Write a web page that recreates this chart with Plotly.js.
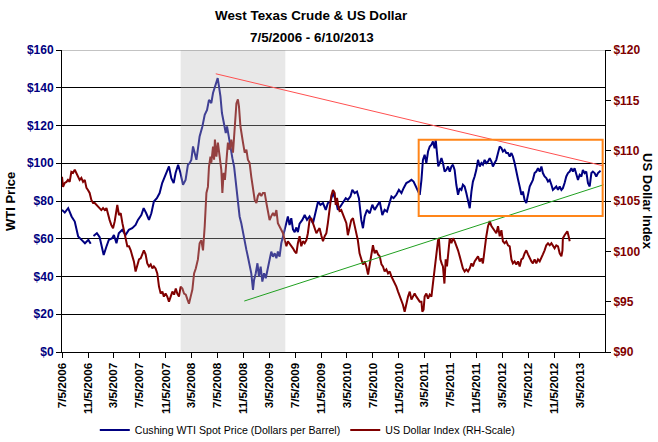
<!DOCTYPE html>
<html>
<head>
<meta charset="utf-8">
<script src="https://cdn.plot.ly/plotly-3.0.1.min.js"></script>
<style>html,body{margin:0;padding:0;background:#fff;}#chart{width:658px;height:442px;}</style>
</head>
<body>
<div id="chart"></div>
<script>
// ---- data ----
var wtiDates = ["2006-07-05","2006-07-18","2006-08-03","2006-08-19","2006-09-03","2006-09-11","2006-09-19","2006-10-05","2006-10-21","2006-11-06","2006-11-17","2006-11-22","2006-11-30","2006-12-16","2006-12-29",
"2007-01-09","2007-01-17","2007-01-30","2007-02-10","2007-02-26","2007-03-06","2007-03-18","2007-03-29","2007-04-14","2007-04-30","2007-05-15","2007-05-31","2007-06-16","2007-06-27","2007-07-13","2007-07-24","2007-08-05","2007-08-18","2007-08-29","2007-09-10","2007-09-24","2007-10-07","2007-10-19","2007-10-31","2007-11-11","2007-11-20","2007-12-01","2007-12-12","2007-12-21",
"2008-01-02","2008-01-13","2008-01-25","2008-02-06","2008-02-17","2008-02-25","2008-03-04","2008-03-12","2008-03-20","2008-03-28","2008-04-12","2008-04-25","2008-05-06","2008-05-17","2008-05-26","2008-06-06","2008-06-14","2008-06-27","2008-07-06","2008-07-12","2008-07-19","2008-07-26","2008-08-05","2008-08-13","2008-08-19","2008-08-28","2008-09-04","2008-09-13","2008-09-21","2008-10-02","2008-10-09","2008-10-17","2008-10-25","2008-11-02","2008-11-10","2008-11-18","2008-11-25","2008-12-03","2008-12-11","2008-12-19","2008-12-24",
"2009-01-01","2009-01-09","2009-01-16","2009-01-24","2009-02-01","2009-02-09","2009-02-17","2009-02-25","2009-03-07","2009-03-15","2009-03-23","2009-03-31","2009-04-08","2009-04-15","2009-04-23","2009-05-01","2009-05-09","2009-05-17","2009-05-25","2009-06-01","2009-06-09","2009-06-17","2009-06-25","2009-07-03","2009-07-11","2009-07-18","2009-07-26","2009-08-08","2009-08-19","2009-08-30","2009-09-11","2009-09-27","2009-10-10","2009-10-21","2009-11-01","2009-11-13","2009-11-26","2009-12-06","2009-12-18","2009-12-30",
"2010-01-12","2010-01-22","2010-02-03","2010-02-15","2010-02-28","2010-03-10","2010-03-22","2010-03-31","2010-04-11","2010-04-22","2010-05-01","2010-05-12","2010-05-20","2010-05-28","2010-06-08","2010-06-21","2010-07-03","2010-07-14","2010-07-25","2010-08-07","2010-08-19","2010-08-30","2010-09-10","2010-09-19","2010-10-01","2010-10-11","2010-10-24","2010-11-05","2010-11-17","2010-11-27","2010-12-10","2010-12-22",
"2011-01-03","2011-01-13","2011-01-26","2011-02-03","2011-02-11","2011-02-19","2011-02-26","2011-03-06","2011-03-14","2011-03-22","2011-03-30","2011-04-07","2011-04-14","2011-04-22","2011-04-27","2011-05-03","2011-05-09","2011-05-16","2011-05-24","2011-05-31","2011-06-08","2011-06-16","2011-06-24","2011-07-02","2011-07-10","2011-07-17","2011-07-25","2011-08-02","2011-08-10","2011-08-18","2011-08-26","2011-09-02","2011-09-10","2011-09-18","2011-09-26","2011-10-04","2011-10-12","2011-10-19","2011-10-27","2011-11-04","2011-11-12","2011-11-20","2011-11-28","2011-12-05","2011-12-13","2011-12-21","2011-12-29",
"2012-01-06","2012-01-14","2012-01-21","2012-01-29","2012-02-06","2012-02-14","2012-02-22","2012-03-01","2012-03-08","2012-03-16","2012-03-24","2012-04-01","2012-04-09","2012-04-17","2012-04-24","2012-05-02","2012-05-10","2012-05-18","2012-05-26","2012-06-03","2012-06-10","2012-06-18","2012-06-26","2012-07-04","2012-07-12","2012-07-20","2012-07-27","2012-08-04","2012-08-12","2012-08-20","2012-08-28","2012-09-05","2012-09-12","2012-09-20","2012-09-28","2012-10-06","2012-10-14","2012-10-22","2012-10-29","2012-11-06","2012-11-14","2012-11-22","2012-11-30","2012-12-08","2012-12-15","2012-12-23","2012-12-31",
"2013-01-08","2013-01-16","2013-01-24","2013-01-31","2013-02-08","2013-02-16","2013-02-24","2013-03-04","2013-03-12","2013-03-19","2013-03-27","2013-04-04","2013-04-12","2013-04-20","2013-04-28","2013-05-05","2013-05-13","2013-05-21","2013-05-29","2013-06-06","2013-06-10"];
var wtiValues = [75.3,73.9,76.2,71.8,69.1,64.7,61.2,59.4,57.6,59.4,57.3,null,61.5,62.9,60.8,
55.9,51.4,55.9,59.4,60.3,62.0,57.6,62.9,64.7,62.0,64.7,65.6,67.3,70.0,72.6,76.2,73.5,70.0,73.5,79.7,81.5,84.2,89.5,93.0,95.6,98.3,92.1,89.5,94.8,
99.2,94.8,88.6,91.2,99.2,100.0,101.8,108.9,105.4,101.8,114.2,119.5,125.7,128.3,133.6,131.9,137.2,141.6,145.1,140.7,135.4,126.6,121.3,116.0,119.5,113.3,107.1,102.7,98.3,85.9,78.9,71.8,68.2,62.9,58.5,54.1,50.5,45.2,41.7,32.9,38.2,
41.7,47.0,39.9,45.2,37.3,41.7,39.1,43.5,48.8,53.2,50.5,52.3,49.7,53.2,50.5,57.6,61.2,64.7,68.2,71.8,67.3,70.9,65.0,63.5,66.0,63.5,68.0,70.0,72.6,70.0,71.8,68.2,74.4,79.7,78.0,78.9,75.3,78.9,79.7,84.2,
80.6,75.3,77.1,78.9,81.5,80.6,82.4,85.9,84.2,85.0,81.5,70.0,65.6,71.8,75.3,73.5,78.0,75.3,77.1,79.7,72.6,75.3,74.4,78.0,82.4,81.5,83.3,85.9,84.2,86.8,89.5,90.3,
91.2,90.3,86.8,85.0,83.3,91.2,101.8,104.5,100.1,106.2,108.9,109.8,111.5,108.0,112.4,105.4,98.3,100.1,102.7,100.1,95.6,96.5,98.3,95.6,98.3,99.2,96.5,88.6,83.3,86.8,85.9,88.6,87.7,84.2,80.6,76.2,85.0,90.3,93.0,96.5,101.8,98.3,100.1,99.2,101.8,100.1,100.9,
102.7,100.9,98.3,100.1,101.8,105.4,108.9,108.0,106.2,107.1,105.4,105.4,103.6,105.4,103.6,100.1,96.5,91.5,87.5,83.3,85.0,80.6,78.9,83.3,87.7,89.5,91.2,94.8,95.6,97.4,95.6,98.3,94.8,93.0,92.1,90.3,91.2,88.6,85.9,86.8,87.7,85.9,87.7,85.9,86.8,89.5,93.0,
94.8,95.6,97.4,95.6,97.4,94.8,91.2,93.9,93.0,96.5,94.8,95.6,89.5,87.7,94.8,95.6,94.8,93.0,94.8,95.6,96.1];

var usdDates = ["2006-07-05","2006-07-10","2006-07-18","2006-07-26","2006-08-02","2006-08-10","2006-08-18","2006-08-26","2006-09-03","2006-09-11","2006-09-18","2006-09-26","2006-10-04","2006-10-12","2006-10-20","2006-10-28","2006-11-04","2006-11-12","2006-11-20","2006-11-28","2006-12-06","2006-12-14","2006-12-21","2006-12-29",
"2007-01-06","2007-01-14","2007-01-22","2007-01-30","2007-02-06","2007-02-14","2007-02-22","2007-03-02","2007-03-10","2007-03-18","2007-03-22","2007-03-30","2007-04-07","2007-04-15","2007-04-22","2007-04-30","2007-05-08","2007-05-16","2007-05-24","2007-06-01","2007-06-08","2007-06-16","2007-06-24","2007-07-02","2007-07-10","2007-07-18","2007-07-25","2007-08-02","2007-08-10","2007-08-18","2007-08-26","2007-09-03","2007-09-10","2007-09-18","2007-09-26","2007-10-04","2007-10-12","2007-10-20","2007-10-27","2007-11-04","2007-11-12","2007-11-20","2007-11-28","2007-12-06","2007-12-14","2007-12-22","2007-12-29",
"2008-01-06","2008-01-14","2008-01-22","2008-01-30","2008-02-07","2008-02-15","2008-02-22","2008-03-01","2008-03-09","2008-03-17","2008-03-25","2008-04-04","2008-04-12","2008-04-20","2008-04-28","2008-05-06","2008-05-14","2008-05-21","2008-05-26","2008-06-02","2008-06-06","2008-06-14","2008-06-19","2008-06-23","2008-06-30","2008-07-07","2008-07-15","2008-07-23","2008-07-28","2008-08-03","2008-08-09","2008-08-16","2008-08-23","2008-08-31","2008-09-08","2008-09-16","2008-09-24","2008-10-02","2008-10-09","2008-10-14","2008-10-21","2008-10-27","2008-11-02","2008-11-10","2008-11-18","2008-11-25","2008-12-03","2008-12-11","2008-12-19","2008-12-27",
"2009-01-04","2009-01-11","2009-01-19","2009-01-27","2009-02-04","2009-02-12","2009-02-20","2009-02-27","2009-03-07","2009-03-15","2009-03-23","2009-03-31","2009-04-08","2009-04-15","2009-04-23","2009-05-01","2009-05-09","2009-05-17","2009-05-25","2009-06-01","2009-06-09","2009-06-17","2009-06-25","2009-07-03","2009-07-11","2009-07-18","2009-07-26","2009-08-03","2009-08-11","2009-08-19","2009-08-27","2009-09-03","2009-09-11","2009-09-19","2009-09-27","2009-10-05","2009-10-13","2009-10-21","2009-10-28","2009-11-05","2009-11-13","2009-11-21","2009-11-29","2009-12-06","2009-12-14","2009-12-22","2009-12-30",
"2010-01-07","2010-01-12","2010-01-18","2010-01-24","2010-01-30","2010-02-07","2010-02-15","2010-02-23","2010-03-03","2010-03-10","2010-03-18","2010-03-26","2010-04-03","2010-04-11","2010-04-19","2010-04-26","2010-05-04","2010-05-12","2010-05-20","2010-05-28","2010-06-05","2010-06-13","2010-06-21","2010-06-29","2010-07-06","2010-07-14","2010-07-22","2010-07-30","2010-08-07","2010-08-15","2010-08-22","2010-08-30","2010-09-07","2010-09-15","2010-09-23","2010-10-01","2010-10-08","2010-10-16","2010-10-24","2010-11-01","2010-11-09","2010-11-17","2010-11-24","2010-12-02","2010-12-10","2010-12-18","2010-12-26",
"2011-01-03","2011-01-10","2011-01-18","2011-01-26","2011-02-03","2011-02-11","2011-02-19","2011-02-23","2011-03-01","2011-03-06","2011-03-14","2011-03-22","2011-03-30","2011-04-07","2011-04-14","2011-04-19","2011-04-25","2011-04-30","2011-05-08","2011-05-12","2011-05-19","2011-05-25","2011-05-31","2011-06-07","2011-06-13","2011-06-19","2011-06-25","2011-07-02","2011-07-10","2011-07-17","2011-07-25","2011-08-02","2011-08-10","2011-08-18","2011-08-26","2011-09-02","2011-09-10","2011-09-18","2011-09-26","2011-10-04","2011-10-12","2011-10-19","2011-10-27","2011-11-04","2011-11-12","2011-11-20","2011-11-28","2011-12-05","2011-12-13","2011-12-21","2011-12-29",
"2012-01-06","2012-01-14","2012-01-21","2012-01-29","2012-02-06","2012-02-14","2012-02-22","2012-03-01","2012-03-08","2012-03-16","2012-03-24","2012-04-01","2012-04-09","2012-04-17","2012-04-24","2012-05-02","2012-05-10","2012-05-18","2012-05-26","2012-06-03","2012-06-10","2012-06-18","2012-06-26","2012-07-04","2012-07-12","2012-07-20","2012-07-27","2012-08-04","2012-08-12","2012-08-20","2012-08-28","2012-09-05","2012-09-12","2012-09-20","2012-09-28","2012-10-06","2012-10-14","2012-10-22","2012-10-29","2012-11-06","2012-11-14","2012-11-22","2012-11-30","2012-12-08","2012-12-13","2012-12-15","2012-12-23","2012-12-31",
"2013-01-05","2013-01-11","2013-01-16"];
var usdValues = [107.4,106.4,106.8,106.9,107.1,106.9,107.9,107.8,108.1,107.8,107.4,107.1,107.3,106.9,107.1,106.3,106.1,105.8,105.1,104.8,104.8,104.6,104.5,104.3,
104.1,104.3,104.1,104.3,103.6,103.1,102.6,102.3,103.0,104.0,104.6,103.6,103.8,102.8,102.0,101.1,100.5,100.5,100.1,99.5,99.0,98.0,98.7,99.2,99.3,99.8,100.1,99.7,98.8,98.5,98.7,98.3,98.5,98.3,97.8,96.5,95.8,96.0,95.5,95.8,95.5,95.0,95.5,96.0,95.7,96.3,95.8,
95.5,96.5,96.3,95.8,95.7,95.2,94.8,95.5,96.2,97.8,98.3,99.2,100.8,101.1,100.1,102.5,105.8,106.4,108.4,109.4,108.8,110.4,109.1,111.1,109.4,110.8,109.1,108.1,105.8,107.8,107.1,108.8,110.8,110.1,111.1,109.8,112.4,114.7,115.1,114.4,112.4,111.4,110.8,109.8,110.1,109.1,108.8,107.4,106.1,105.1,
104.8,105.5,105.8,105.5,105.8,105.8,104.8,103.8,103.1,103.5,103.8,103.5,104.1,102.8,102.5,102.1,101.8,101.1,100.5,101.0,100.8,100.5,100.3,100.0,99.8,100.8,101.5,100.5,101.0,100.8,101.1,101.8,103.1,103.3,102.8,102.3,101.8,102.1,102.3,101.6,101.0,101.5,101.8,102.8,104.1,105.5,106.1,
105.8,104.6,105.3,104.5,104.0,104.1,103.6,103.3,102.8,101.6,102.3,103.1,103.3,102.5,101.8,101.1,99.8,99.2,98.7,99.0,98.5,97.7,98.8,100.1,100.6,99.8,100.1,99.7,99.5,98.7,98.5,98.0,98.2,97.8,98.0,97.5,97.2,97.0,96.5,96.0,95.5,95.2,94.7,94.0,94.8,95.5,96.0,
95.2,95.5,95.8,95.5,95.2,95.0,95.0,94.0,94.2,95.5,95.8,95.3,95.7,95.5,96.8,97.8,99.2,99.8,101.1,101.3,99.2,98.8,98.5,96.8,99.2,98.5,100.1,101.3,100.8,101.3,101.0,100.6,100.1,99.5,98.8,98.3,98.0,98.2,98.0,98.3,98.8,98.5,99.0,99.2,99.5,99.0,99.3,98.8,100.3,101.5,102.5,
103.0,102.5,102.3,102.1,101.8,102.5,101.5,102.1,101.0,100.8,101.0,100.6,100.5,99.2,98.8,99.0,98.7,99.0,98.5,99.2,99.3,99.8,100.1,99.7,99.3,99.0,98.8,99.2,98.8,99.2,99.0,99.3,99.7,100.1,100.6,100.8,100.6,100.8,100.5,100.3,100.6,100.5,99.8,99.5,100.1,101.3,101.6,101.8,
102.0,101.5,101.0];

var tickDates = ["2006-07-05","2006-11-05","2007-03-05","2007-07-05","2007-11-05","2008-03-05","2008-07-05","2008-11-05","2009-03-05","2009-07-05","2009-11-05","2010-03-05","2010-07-05","2010-11-05","2011-03-05","2011-07-05","2011-11-05","2012-03-05","2012-07-05","2012-11-05","2013-03-05"];
var tickLabels = ["7/5/2006","11/5/2006","3/5/2007","7/5/2007","11/5/2007","3/5/2008","7/5/2008","11/5/2008","3/5/2009","7/5/2009","11/5/2009","3/5/2010","7/5/2010","11/5/2010","3/5/2011","7/5/2011","11/5/2011","3/5/2012","7/5/2012","11/5/2012","3/5/2013"];

// recession shading, trend lines and highlight box (in data units)
var shadeDates = ["2008-01-14","2009-05-20"];
var resistanceDates = ["2008-06-27","2013-06-24"];
var resistanceValues = [147.4, 98.6];
var supportDates = ["2008-11-08","2013-06-24"];
var supportValues = [27.0, 88.6];
var boxDates = ["2011-02-06","2013-06-20"];
var boxValues = [72.1, 112.4];

var FONT = "Liberation Sans, Arial, sans-serif";

var traces = [
  {x: wtiDates, y: wtiValues, type: "scatter", mode: "lines", name: "Cushing WTI Spot Price (Dollars per Barrel)",
   line: {color: "#000080", width: 2}, connectgaps: false, yaxis: "y"},
  {x: usdDates, y: usdValues, type: "scatter", mode: "lines", name: "US Dollar Index (RH-Scale)",
   line: {color: "#800000", width: 2}, yaxis: "y2"}
];

var layout = {
  width: 658, height: 442,
  margin: {l: 62, r: 53, t: 50, b: 90},
  paper_bgcolor: "#ffffff", plot_bgcolor: "#ffffff",
  font: {family: FONT, color: "#000"},
  showlegend: true,
  legend: {orientation: "h", xref: "container", yref: "container", x: 0.467, xanchor: "center", y: 0.027, yanchor: "middle",
           itemwidth: 30, font: {family: FONT, size: 10.6, color: "#000"}, bgcolor: "rgba(0,0,0,0)", tracegroupgap: 0},
  xaxis: {type: "date", range: ["2006-07-05", "2013-07-01"], tickmode: "array", tickvals: tickDates, ticktext: tickLabels,
          tickangle: -90, ticks: "outside", ticklen: 5, tickcolor: "#000", showgrid: false, zeroline: false,
          showline: true, linecolor: "#000", linewidth: 1, automargin: false,
          tickfont: {family: FONT, size: 11.7, color: "#000", weight: "bold"}},
  yaxis: {range: [0, 160], dtick: 20, tick0: 0, tickprefix: "$", ticks: "outside", ticklen: 5, tickcolor: "#000",
          showgrid: true, gridcolor: "#000", gridwidth: 1, zeroline: false, showline: true, linecolor: "#000", linewidth: 1,
          automargin: false, tickfont: {family: FONT, size: 12, color: "#000080", weight: "bold"}},
  yaxis2: {range: [90, 120], dtick: 5, tick0: 90, tickprefix: "$", overlaying: "y", side: "right", ticks: "outside",
           ticklen: 5, tickcolor: "#000", showgrid: false, zeroline: false, showline: true, linecolor: "#000", linewidth: 1,
           automargin: false, tickfont: {family: FONT, size: 12, color: "#800000", weight: "bold"}},
  shapes: [
    {type: "rect", xref: "x", yref: "y", x0: shadeDates[0], x1: shadeDates[1], y0: 0, y1: 160,
     fillcolor: "rgb(188,188,188)", opacity: 0.34, line: {width: 0}, layer: "above"},
    {type: "line", xref: "paper", yref: "y", x0: 0, x1: 1, y0: 160, y1: 160, line: {color: "#888888", width: 1}, layer: "above"},
    {type: "line", xref: "x", yref: "y", x0: resistanceDates[0], x1: resistanceDates[1], y0: resistanceValues[0], y1: resistanceValues[1],
     line: {color: "#ff5050", width: 1}, layer: "above"},
    {type: "line", xref: "x", yref: "y", x0: supportDates[0], x1: supportDates[1], y0: supportValues[0], y1: supportValues[1],
     line: {color: "#20a020", width: 1}, layer: "above"},
    {type: "rect", xref: "x", yref: "y", x0: boxDates[0], x1: boxDates[1], y0: boxValues[0], y1: boxValues[1],
     line: {color: "#ff8519", width: 2}, fillcolor: "rgba(0,0,0,0)", layer: "above"}
  ],
  annotations: [
    {text: "West Texas Crude & US Dollar", xref: "paper", yref: "paper", x: 0.4604, y: 1.1126, xanchor: "center", yanchor: "middle",
     showarrow: false, font: {family: FONT, size: 13.4, color: "#000", weight: "bold"}},
    {text: "7/5/2006 - 6/10/2013", xref: "paper", yref: "paper", x: 0.4604, y: 1.043, xanchor: "center", yanchor: "middle",
     showarrow: false, font: {family: FONT, size: 13.4, color: "#000", weight: "bold"}},
    {text: "WTI Price", xref: "paper", yref: "paper", x: -0.0958, y: 0.5, xanchor: "center", yanchor: "middle", textangle: -90,
     showarrow: false, font: {family: FONT, size: 13, color: "#000", weight: "bold"}},
    {text: "US Dollar Index", xref: "paper", yref: "paper", x: 1.0792, y: 0.5, xanchor: "center", yanchor: "middle", textangle: 90,
     showarrow: false, font: {family: FONT, size: 13, color: "#000", weight: "bold"}}
  ]
};

Plotly.newPlot("chart", traces, layout, {displayModeBar: false, staticPlot: true});
</script>
</body>
</html>
